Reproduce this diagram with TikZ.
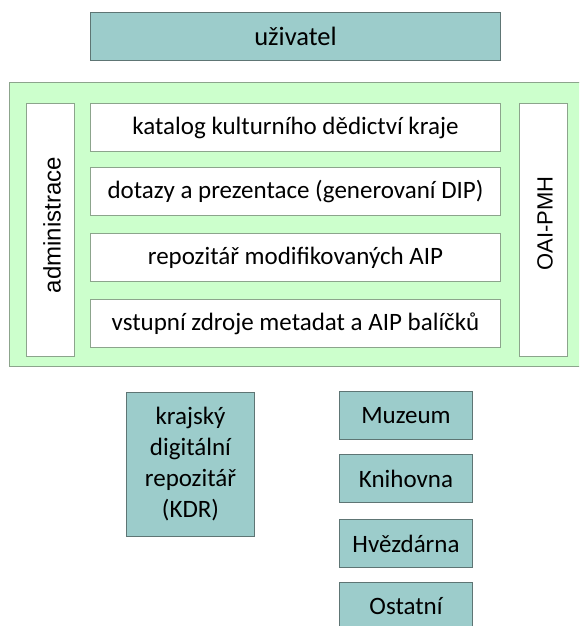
\documentclass[tikz,border=0pt]{standalone}
\usepackage{fontspec}
\setmainfont{Carlito}
\newfontfamily\arialfont{Liberation Sans}
\definecolor{boxteal}{HTML}{9CCCCB}
\definecolor{tealline}{HTML}{5E7574}
\definecolor{panelgreen}{HTML}{CCFFCC}
\definecolor{greenline}{HTML}{8CA48C}
\begin{document}
\begin{tikzpicture}[x=1pt,y=-1pt,
    tealbox/.style={draw=tealline,fill=boxteal,line width=1pt,inner sep=0pt,anchor=north west,font=\fontsize{25}{31}\selectfont},
    whitebox/.style={draw=greenline,fill=white,line width=1pt,inner sep=0pt,anchor=north west,font=\fontsize{25}{29}\selectfont,minimum width=410pt,minimum height=48pt},
    sidebox/.style={draw=greenline,fill=white,line width=1pt,inner sep=0pt,minimum width=253pt,minimum height=48pt,rotate=90},
    sidetext/.style={inner sep=0pt,rotate=90,anchor=center}]
        \useasboundingbox (0,0) rectangle (579,626);
        \clip (0,0) rectangle (579,626);
        %% User
        \node[tealbox,minimum width=410pt,minimum height=48pt,font=\fontsize{26.5}{30}\selectfont] (user) at (90,12) {uživatel};
        %% Panel
        \draw[draw=greenline,fill=panelgreen,line width=1pt] (9,82) rectangle (590,366);
        \node[sidebox,anchor=center] (admin) at (50.5,229.5) {};
        \node[sidetext,font=\arialfont\fontsize{24}{27}\selectfont] (admintext) at (52,225) {administrace};
        \node[sidebox,anchor=center] (oai) at (543.5,229.5) {};
        \node[sidetext,font=\arialfont\fontsize{22}{25}\selectfont] (oaitext) at (545,223.5) {OAI-PMH};
        \node[whitebox] (catalog) at (90,103) {katalog kulturního dědictví kraje};
        \node[whitebox] (query) at (90,167) {dotazy a prezentace (generovaní DIP)};
        \node[whitebox] (repo) at (90,233) {repozitář modifikovaných AIP};
        \node[whitebox] (input) at (90,299) {vstupní zdroje metadat a AIP balíčků};
        %% Sources
        \node[tealbox,minimum width=128pt,minimum height=144pt,align=center] (kdr) at (126,392) {krajský\\digitální\\repozitář\\(KDR)};
        \node[tealbox,minimum width=133pt,minimum height=48pt] (museum) at (339,391) {Muzeum};
        \node[tealbox,minimum width=133pt,minimum height=48pt] (library) at (339,454) {Knihovna};
        \node[tealbox,minimum width=133pt,minimum height=48pt] (observatory) at (339,519) {Hvězdárna};
        \node[tealbox,minimum width=133pt,minimum height=48pt] (other) at (339,582) {Ostatní};
    \end{tikzpicture}
\end{document}
